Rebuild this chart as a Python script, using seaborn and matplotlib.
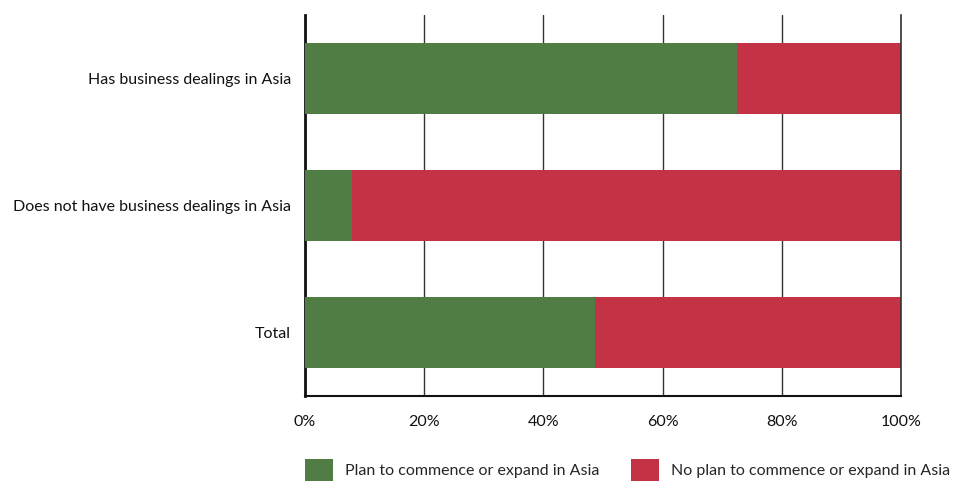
import matplotlib
matplotlib.use("Agg")
import matplotlib.pyplot as plt
import seaborn as sns
import pandas as pd
from matplotlib.patches import Patch

categories = ["Has business dealings in Asia",
              "Does not have business dealings in Asia",
              "Total"]
plan = [72.5, 7.9, 48.7]
no_plan = [27.5, 92.1, 51.3]
series_names = ["Plan to commence or expand in Asia",
                "No plan to commence or expand in Asia"]
tick_labels = ["0%", "20%", "40%", "60%", "80%", "100%"]

green = "#4F7D44"
red = "#C33245"

sns.set_theme(style="white")
plt.rcParams["font.family"] = ["Lato", "DejaVu Sans"]

df = pd.DataFrame({"category": categories, "plan": plan, "no_plan": no_plan})
df["total"] = df["plan"] + df["no_plan"]

fig = plt.figure(figsize=(9.57, 4.84), dpi=100)
ax = fig.add_axes([305 / 957, 1 - 396 / 484, 596 / 957, 381 / 484])

sns.barplot(data=df, y="category", x="total", color=red, orient="h",
            width=0.56, saturation=1, linewidth=0, ax=ax, zorder=2)
sns.barplot(data=df, y="category", x="plan", color=green, orient="h",
            width=0.56, saturation=1, linewidth=0, ax=ax, zorder=3)

ax.set_xlim(0, 100)
ax.set_ylim(2.5, -0.5)
ax.set_xticks([0, 20, 40, 60, 80, 100])
ax.set_xticklabels(tick_labels)
ax.set_xlabel("")
ax.set_ylabel("")
ax.grid(axis="x", color="#333333", linewidth=1.0)
ax.set_axisbelow(True)
ax.tick_params(axis="both", length=0, labelsize=11.5, colors="#111111")
ax.tick_params(axis="y", pad=10)
ax.tick_params(axis="x", pad=14)

ax.spines["top"].set_visible(False)
ax.spines["right"].set_color("#333333")
ax.spines["right"].set_linewidth(1.2)
ax.spines["left"].set_color("#111111")
ax.spines["left"].set_linewidth(2)
ax.spines["bottom"].set_color("#111111")
ax.spines["bottom"].set_linewidth(1.5)

handles = [Patch(facecolor=green, edgecolor="none"),
           Patch(facecolor=red, edgecolor="none")]
fig.legend(handles, series_names, loc="lower left",
           bbox_to_anchor=(302 / 957, 0.0), ncol=2, frameon=False,
           fontsize=11.5, handlelength=1.75, handleheight=1.75,
           handletextpad=0.75, columnspacing=2.0, borderaxespad=0,
           borderpad=0.2)

fig.savefig("out.png", dpi=100)
